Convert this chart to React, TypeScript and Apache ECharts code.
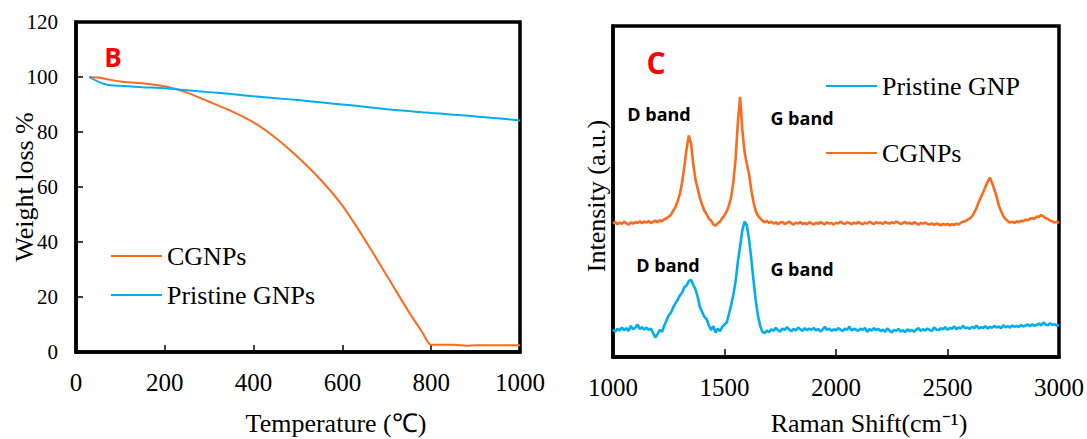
import React, { useEffect, useRef } from 'react';
import * as echarts from 'echarts';

// TGA curves (panel B)
const tgaTemperature = [30, 50, 70, 100, 150, 200, 250, 300, 350, 400, 450, 500, 550, 600, 650, 700, 750, 780, 800, 850, 880, 900, 950, 1000];
const cgnpsWeight = [100, 99.8, 99.2, 98.4, 97.7, 96.6, 94.3, 91.0, 87.6, 83.5, 77.8, 70.8, 62.8, 53.2, 41.0, 27.8, 14.5, 7.2, 2.6, 2.6, 2.3, 2.5, 2.5, 2.5];
const pristineWeight = [100, 98.3, 97.2, 96.8, 96.3, 95.9, 95.2, 94.5, 93.8, 93.0, 92.3, 91.6, 90.8, 90.0, 89.2, 88.3, 87.6, 87.2, 86.9, 86.3, 86.0, 85.6, 85.0, 84.2];

// Raman spectra (panel C), sampled every 10 cm-1 from 1000 to 3000
const ramanStart = 1000;
const ramanStep = 10;
const cgnpsRaman = [
  40.3, 40.8, 40.1, 40.6, 40.2, 40.9, 40.4, 40.0, 40.7, 40.3,
  40.8, 40.5, 41.0, 40.4, 40.9, 40.6, 41.1, 40.5, 40.8, 41.2,
  40.7, 41.3, 41.0, 41.6, 41.9, 42.4, 43.0, 44.2, 45.3, 47.0,
  49.3, 52.8, 57.6, 62.8, 66.9, 64.5, 58.2, 53.6, 50.8, 48.0,
  45.9, 44.2, 43.1, 41.8, 41.2, 40.1, 39.7, 40.4, 40.9, 41.9,
  42.8, 44.0, 45.8, 48.3, 53.0, 60.0, 71.0, 78.6, 68.5, 62.0,
  58.4, 55.3, 50.6, 46.8, 44.1, 42.7, 41.9, 41.2, 40.7, 41.1,
  40.5, 40.9, 40.3, 40.7, 40.1, 40.6, 40.8, 40.2, 40.5, 40.9,
  40.4, 40.0, 40.6, 40.3, 40.8, 40.2, 40.5, 40.1, 40.7, 40.4,
  40.0, 40.6, 40.2, 40.8, 40.4, 40.1, 40.7, 40.3, 40.5, 40.0,
  40.6, 40.3, 40.9, 40.4, 40.2, 40.7, 40.5, 40.1, 40.6, 40.3,
  40.8, 40.4, 40.1, 40.6, 40.3, 40.9, 40.5, 40.2, 40.7, 40.4,
  40.6, 40.2, 40.8, 40.5, 40.3, 40.7, 40.4, 40.9, 40.6, 40.2,
  40.5, 40.8, 40.3, 40.6, 40.1, 40.7, 40.4, 40.0, 40.5, 40.3,
  40.6, 40.2, 40.0, 40.4, 39.9, 40.3, 40.1, 39.8, 40.2, 39.9,
  40.2, 39.8, 40.1, 39.9, 40.3, 40.0, 40.6, 40.9, 41.0, 41.5,
  41.8, 42.5, 43.6, 45.0, 46.8, 48.3, 49.8, 51.4, 52.9, 54.2,
  52.6, 50.6, 48.5, 45.8, 44.1, 42.6, 41.7, 41.1, 40.6, 40.9,
  40.5, 41.0, 40.7, 41.2, 41.0, 41.5, 41.3, 41.8, 42.0, 41.7,
  42.4, 42.3, 42.9, 42.5, 42.0, 41.7, 41.2, 41.0, 40.6, 40.9,
  40.4,
];
const pristineRaman = [
  8.3, 7.6, 8.5, 8.0, 8.9, 8.1, 8.7, 7.9, 9.4, 8.4,
  8.8, 9.8, 8.5, 9.0, 8.3, 8.9, 8.2, 8.6, 7.2, 5.9,
  7.0, 8.2, 7.6, 9.5, 11.0, 12.6, 13.4, 15.0, 16.2, 17.3,
  18.6, 19.4, 21.1, 21.6, 22.9, 23.3, 21.8, 20.4, 18.1, 15.0,
  13.6, 12.1, 11.4, 9.6, 8.1, 9.3, 7.4, 8.6, 7.8, 9.1,
  9.8, 10.4, 13.0, 15.8, 18.9, 23.0, 28.7, 33.5, 38.2, 40.9,
  39.8, 35.6, 29.8, 23.2, 17.1, 12.5, 9.4, 7.6, 7.2, 8.0,
  7.5, 8.4, 7.9, 8.8, 8.1, 7.7, 8.6, 8.2, 9.0, 8.3,
  7.8, 8.5, 8.0, 8.9, 8.4, 7.9, 8.7, 8.1, 8.6, 8.2,
  8.8, 8.0, 8.5, 7.7, 8.3, 9.1, 8.2, 8.6, 7.9, 8.4,
  8.1, 8.7, 8.3, 7.8, 8.6, 8.2, 9.2, 8.0, 8.5, 8.3,
  7.9, 8.6, 8.2, 8.8, 7.6, 8.4, 8.0, 8.7, 8.1, 8.5,
  7.8, 8.3, 7.6, 8.6, 8.0, 7.4, 8.2, 7.9, 8.5, 7.7,
  8.1, 7.5, 8.4, 7.8, 8.2, 7.6, 8.3, 8.7, 7.9, 8.4,
  8.0, 8.6, 8.2, 7.8, 8.9, 8.3, 8.1, 8.7, 8.4, 9.0,
  8.2, 8.8, 8.5, 9.3, 8.4, 8.9, 8.6, 9.4, 8.7, 8.9,
  8.5, 9.1, 8.7, 9.5, 8.6, 9.0, 8.8, 9.3, 8.6, 9.1,
  8.8, 9.4, 8.9, 9.2, 8.7, 9.6, 9.0, 9.3, 8.9, 9.5,
  9.1, 9.4, 9.0, 9.7, 9.2, 9.5, 9.8, 9.3, 9.9, 9.4,
  9.7, 10.1, 9.5, 10.4, 9.8, 9.6, 10.2, 9.7, 9.9, 9.5,
  9.6,
];

const tempTicks = { min: 0, max: 1000, interval: 200 };
const weightTicks = { min: 0, max: 120, interval: 20 };
const shiftTicks = { min: 1000, max: 3000, interval: 500 };

const ORANGE = '#FA6B1E';
const BLUE = '#00AEEF';
const SERIF = 'Liberation Serif';
const SANS = 'Open Sans';

const pairs = (xs: number[], ys: number[]) => xs.map((x, i) => [x, ys[i]]);
const ramanPairs = (ys: number[]) => ys.map((y, i) => [ramanStart + i * ramanStep, y]);

const frameAxisLine = { show: true, lineStyle: { color: '#000', width: 3.5 } };
const insideTick = (len: number) => ({ show: true, inside: true, length: len, lineStyle: { color: '#000', width: 1.5 } });
const plainNumber = (v: number) => String(v);

function buildOption(): echarts.EChartsOption {
  const legendText = { fontFamily: SERIF, fontSize: 26, color: '#000', lineHeight: 26 };
  const label = (text: string, x: number, y: number, family: string, size: number, bold: boolean, fill: string, rotation = 0) => ({
    type: 'text' as const,
    x,
    y,
    rotation,
    style: {
      text, fill, fontFamily: family, fontSize: size, fontWeight: bold ? 'bold' : 'normal',
      textAlign: 'center' as const, textVerticalAlign: 'middle' as const,
    },
  });
  return {
    animation: false,
    backgroundColor: '#fff',
    textStyle: { fontFamily: SERIF },
    grid: [
      { left: 76, top: 22, width: 444, height: 330, show: true, borderColor: '#000', borderWidth: 3.5, backgroundColor: 'transparent' },
      { left: 613, top: 26, width: 447, height: 331, show: true, borderColor: '#000', borderWidth: 3.5, backgroundColor: 'transparent' },
    ],
    xAxis: [
      {
        gridIndex: 0, type: 'value', ...tempTicks,
        axisLine: frameAxisLine, axisTick: insideTick(7), splitLine: { show: false },
        axisLabel: { color: '#000', fontFamily: SERIF, fontSize: 25, margin: 18, formatter: plainNumber },
      },
      {
        gridIndex: 1, type: 'value', ...shiftTicks,
        axisLine: frameAxisLine, axisTick: insideTick(8), splitLine: { show: false },
        axisLabel: { color: '#000', fontFamily: SERIF, fontSize: 25, margin: 18, formatter: plainNumber },
      },
    ],
    yAxis: [
      {
        gridIndex: 0, type: 'value', ...weightTicks,
        axisLine: frameAxisLine, axisTick: insideTick(7), splitLine: { show: false },
        axisLabel: { color: '#000', fontFamily: SERIF, fontSize: 21, margin: 18, formatter: plainNumber },
      },
      {
        gridIndex: 1, type: 'value', min: 0, max: 100,
        axisLine: frameAxisLine, axisTick: { show: false }, splitLine: { show: false },
        axisLabel: { show: false },
      },
    ],
    legend: [
      {
        data: ['CGNPs', 'Pristine GNPs'], orient: 'vertical', left: 106, top: 238,
        icon: 'rect', itemWidth: 51, itemHeight: 2, itemGap: 13, textStyle: legendText,
      },
      {
        data: ['Pristine GNP', 'CGNPs'], orient: 'vertical', left: 821, top: 68,
        icon: 'rect', itemWidth: 51, itemHeight: 2, itemGap: 41, textStyle: legendText,
      },
    ],
    series: [
      {
        name: 'CGNPs', type: 'line', xAxisIndex: 0, yAxisIndex: 0, data: pairs(tgaTemperature, cgnpsWeight),
        showSymbol: false, smooth: 0.25, color: ORANGE, lineStyle: { width: 2, color: ORANGE },
      },
      {
        name: 'Pristine GNPs', type: 'line', xAxisIndex: 0, yAxisIndex: 0, data: pairs(tgaTemperature, pristineWeight),
        showSymbol: false, smooth: 0.25, color: BLUE, lineStyle: { width: 2, color: BLUE },
      },
      {
        name: 'CGNPs', type: 'line', xAxisIndex: 1, yAxisIndex: 1, data: ramanPairs(cgnpsRaman),
        showSymbol: false, color: ORANGE, lineStyle: { width: 2.6, color: ORANGE },
      },
      {
        name: 'Pristine GNP', type: 'line', xAxisIndex: 1, yAxisIndex: 1, data: ramanPairs(pristineRaman),
        showSymbol: false, color: BLUE, lineStyle: { width: 2.6, color: BLUE },
      },
    ],
    graphic: [
      label('Temperature (℃)', 336, 423, SERIF, 26, false, '#000'),
      label('Weight loss %', 24, 187, SERIF, 26, false, '#000', -Math.PI / 2 + Math.PI),
      label('Raman Shift(cm⁻¹)', 869, 423, SERIF, 26, false, '#000'),
      label('Intensity (a.u.)', 596, 196, SERIF, 26, false, '#000', Math.PI / 2),
      label('B', 113, 57, SANS, 26, true, '#FF0000'),
      label('C', 656, 62, SANS, 30, true, '#FF0000'),
      label('D band', 659, 114, SANS, 18, true, '#000'),
      label('G band', 802, 118, SANS, 18, true, '#000'),
      label('D band', 668, 265, SANS, 18, true, '#000'),
      label('G band', 802, 269, SANS, 18, true, '#000'),
    ],
  };
}

export default function App() {
  const ref = useRef<HTMLDivElement>(null);
  useEffect(() => {
    document.body.style.margin = '0';
    const chart = echarts.init(ref.current!, null, { renderer: 'svg' });
    chart.setOption(buildOption());
    return () => chart.dispose();
  }, []);
  return <div ref={ref} style={{ width: 1087, height: 439 }} />;
}
